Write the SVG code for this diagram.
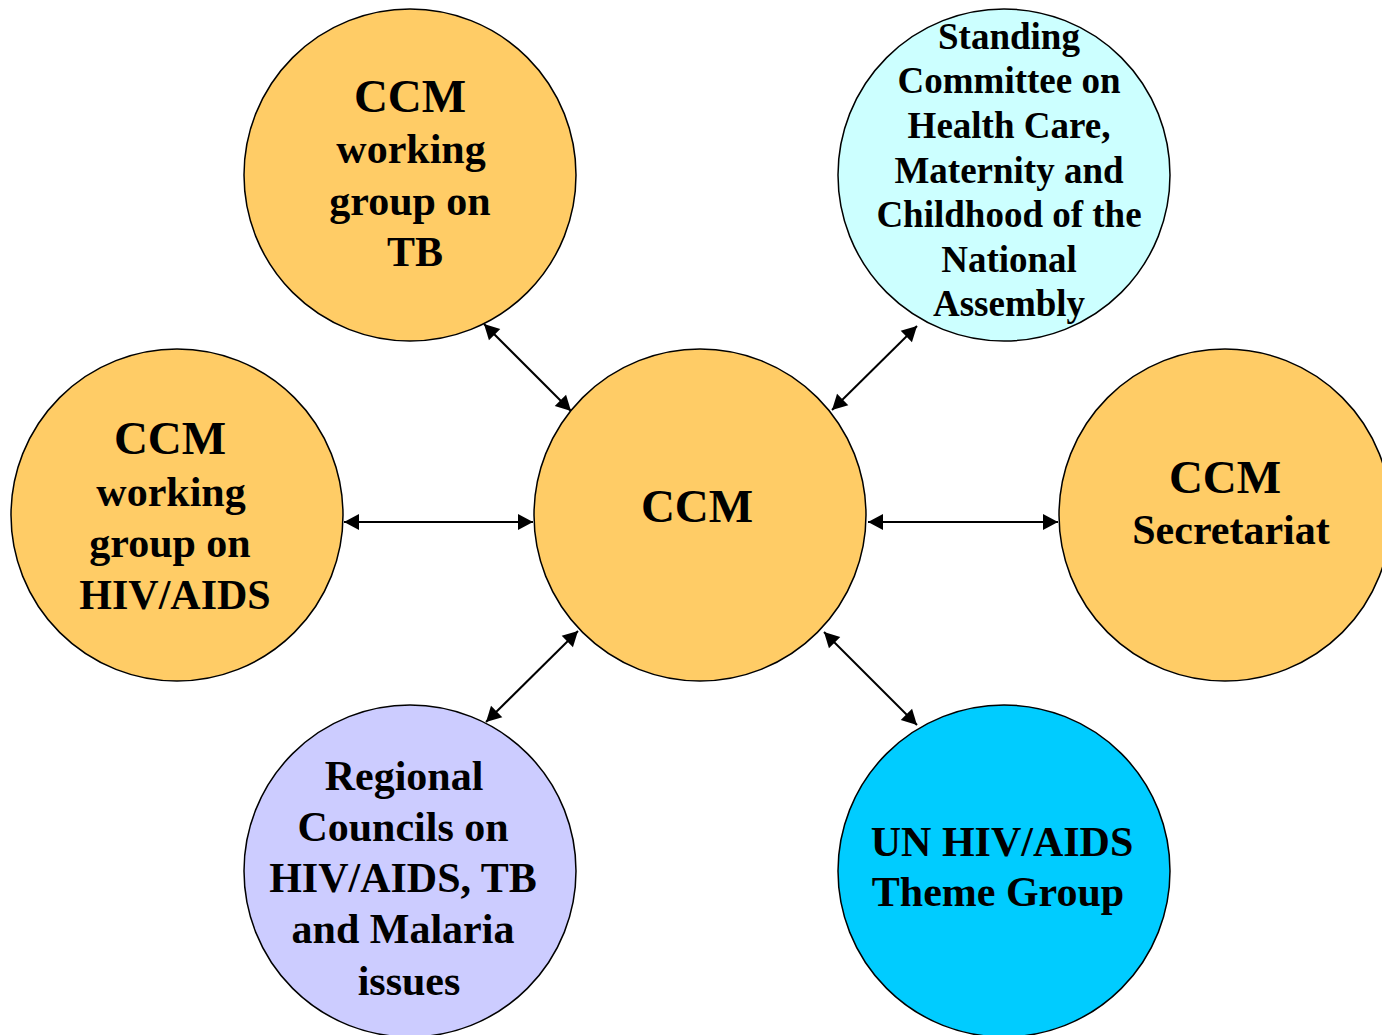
<svg xmlns="http://www.w3.org/2000/svg" width="1382" height="1035" viewBox="0 0 1382 1035">
<style>
.n{stroke:#000;stroke-width:1.5}
.o{fill:#FFCC66}
.lc{fill:#CCFFFF}
.lv{fill:#CCCCFF}
.cy{fill:#00CCFF}
text{font-family:"Liberation Serif","Times New Roman",serif;font-weight:bold;fill:#000;text-anchor:middle}
.t42{font-size:42px}
.t47{font-size:47px}
.t37{font-size:37px}
.c{stroke:#000;stroke-width:2;fill:none;marker-start:url(#ah);marker-end:url(#ah)}
</style>
<defs>
<marker id="ah" markerUnits="userSpaceOnUse" markerWidth="18" markerHeight="18" refX="16" refY="9" orient="auto-start-reverse">
<path d="M1,1 L16,9 L1,17 Z" fill="#000"/>
</marker>
</defs>
<rect width="1382" height="1035" fill="#fff"/>
<g id="connectors">
<line class="c" x1="484" y1="324" x2="571" y2="411"/>
<line class="c" x1="917" y1="326" x2="832" y2="410"/>
<line class="c" x1="344" y1="522" x2="533" y2="522"/>
<line class="c" x1="868" y1="522" x2="1058" y2="522"/>
<line class="c" x1="578" y1="631" x2="486" y2="722"/>
<line class="c" x1="824" y1="632" x2="917" y2="725"/>
</g>
<g id="ccm">
<circle class="n o" cx="700" cy="515" r="166"/>
<text class="t47" x="697" y="522">CCM</text>
</g>
<g id="wg-tb">
<circle class="n o" cx="410" cy="175" r="166"/>
<text class="t47" x="410" y="112">CCM</text>
<text class="t42" x="411" y="163">working</text>
<text class="t42" x="410" y="215">group on</text>
<text class="t42" x="415" y="266">TB</text>
</g>
<g id="standing-committee">
<circle class="n lc" cx="1004" cy="175" r="166"/>
<text class="t37" x="1009" y="49">Standing</text>
<text class="t37" x="1009" y="93">Committee on</text>
<text class="t37" x="1009" y="138">Health Care,</text>
<text class="t37" x="1009" y="183">Maternity and</text>
<text class="t37" x="1009" y="227">Childhood of the</text>
<text class="t37" x="1009" y="272">National</text>
<text class="t37" x="1009" y="316">Assembly</text>
</g>
<g id="wg-hiv">
<circle class="n o" cx="177" cy="515" r="166"/>
<text class="t47" x="170" y="454">CCM</text>
<text class="t42" x="171" y="506">working</text>
<text class="t42" x="170" y="557">group on</text>
<text class="t42" x="175" y="609">HIV/AIDS</text>
</g>
<g id="secretariat">
<circle class="n o" cx="1225" cy="515" r="166"/>
<text class="t47" x="1225" y="493">CCM</text>
<text class="t42" x="1231" y="544">Secretariat</text>
</g>
<g id="regional-councils">
<circle class="n lv" cx="410" cy="871" r="166"/>
<text class="t42" x="404" y="790">Regional</text>
<text class="t42" x="403" y="841">Councils on</text>
<text class="t42" x="403" y="892">HIV/AIDS, TB</text>
<text class="t42" x="403" y="943">and Malaria</text>
<text class="t42" x="409" y="995">issues</text>
</g>
<g id="un-theme-group">
<circle class="n cy" cx="1004" cy="871" r="166"/>
<text class="t42" x="1002" y="856">UN HIV/AIDS</text>
<text class="t42" x="998" y="906">Theme Group</text>
</g>
</svg>
